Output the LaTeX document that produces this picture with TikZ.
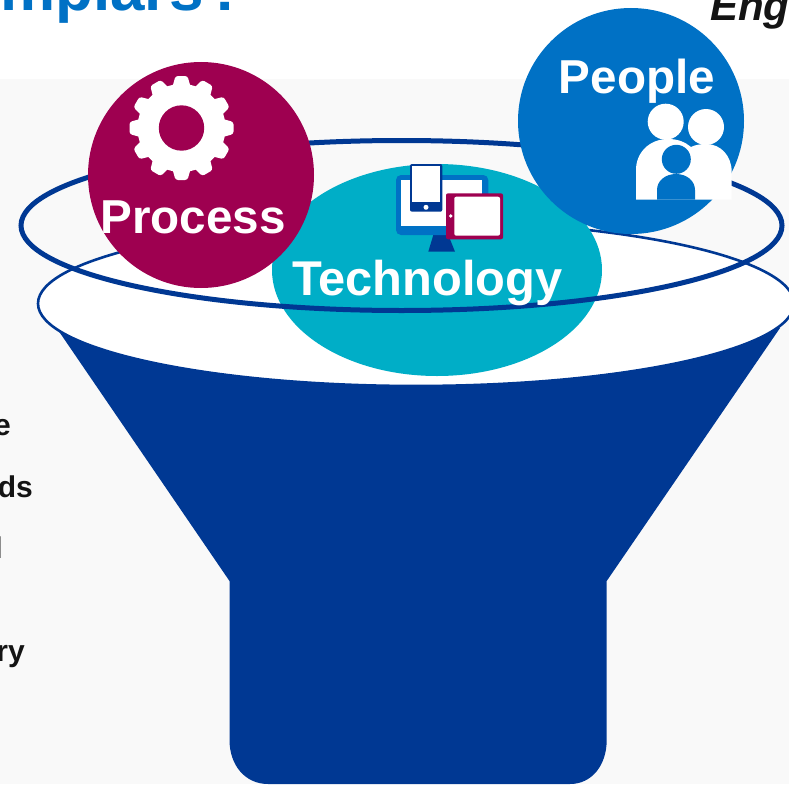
\documentclass[tikz,border=0pt]{standalone}
\usepackage{fontspec}
\setmainfont{Liberation Sans}
\definecolor{crimson}{HTML}{9E0050}
\definecolor{teal}{HTML}{00AEC7}
\definecolor{midblue}{HTML}{0071C5}
\definecolor{navy}{HTML}{003893}
\definecolor{panel}{HTML}{F9F9F9}
\tikzset{
  label/.style={text=white,font=\bfseries\fontsize{47.6}{48}\selectfont,inner sep=0pt,anchor=base},
  side/.style={text=black!92,font=\bfseries\fontsize{30}{30}\selectfont,inner sep=0pt,anchor=base east},
  ball/.style={circle,minimum size=226pt,inner sep=0pt}
}
\begin{document}
\begin{tikzpicture}[x=1pt,y=-1pt]
\useasboundingbox (0,0) rectangle (789,784);
\clip (0,0) rectangle (789,784);
\fill[panel] (0,79) rectangle (789,784);

% text cut off by the page
\node[anchor=base west,inner sep=0pt,text=midblue,font=\bfseries\fontsize{62}{62}\selectfont] (title) at (0,11) {mplars\hspace{0.06em}?};
\node[anchor=base west,inner sep=0pt,text=black!92,font=\bfseries\itshape\fontsize{42}{42}\selectfont] (eng) at (710,21) {Eng};
\node[side] (s1) at (11,435) {e};
\node[side] (s2) at (33,497) {ds};
\node[side] (s3) at (3,558) {l};
\node[side] (s4) at (25,661) {ry};

% funnel
\fill[navy] (58,330) -- (229.5,581) -- (229.5,740) .. controls (229.5,765) and (245,784) .. (268,784)
  -- (570,784) .. controls (592,784) and (606.7,765) .. (606.7,740) -- (606.7,581) -- (780,328) -- cycle;
\draw[navy,line width=2.6pt,fill=white] (416,303.5) ellipse [x radius=378,y radius=82.5];

\fill[teal] (437,270) ellipse [x radius=165,y radius=106];
\draw[navy,line width=5pt] (401.5,225.5) ellipse [x radius=380.5,y radius=85];

% process
\node[ball,fill=crimson] (process) at (201,175) {};
\fill[white] (181.5,128) circle (44);
\foreach \a in {0,30,...,330}
  \fill[white,rounded corners=2.5pt,rotate around={\a:(181.5,128)}] (171,92) -- (175.5,76) -- (187.5,76) -- (192,92) -- cycle;
\fill[crimson] (181.5,128) circle (22.7);
\node[label] (processtext) at (193,233) {Process};

% technology
\node[label,font=\bfseries\fontsize{48.8}{49}\selectfont] (techtext) at (427.5,295) {Technology};
\fill[navy] (433.3,235) -- (448.3,235) -- (455,251.7) -- (428.3,251.7) -- cycle;
\fill[midblue,rounded corners=5pt] (396,175) rectangle (488.3,235);
\fill[white] (401.3,180) rectangle (482,226);
\fill[navy,rounded corners=2pt] (410,164) rectangle (442.3,211.7);
\fill[white] (412.3,165.7) rectangle (440,201.7);
\fill[white] (426,207.3) circle (2.5);
\fill[crimson,rounded corners=2pt] (446,193.3) rectangle (503,239.3);
\fill[white,rounded corners=2pt] (454.3,196.7) rectangle (500,235.7);
\fill[white] (450.7,216) circle (1.8);

% people
\node[ball,fill=midblue] (people) at (631,121) {};
\node[label] (peopletext) at (637,93) {People};
\fill[white] (665.7,121.7) circle (18);
\fill[white] (706,127) circle (18);
\fill[white] (636,199.5) -- (636,170) .. controls (636,152) and (650,139) .. (668,139)
  .. controls (678,139) and (685,142) .. (691,147) .. controls (695,145) and (700,144) .. (706,144)
  .. controls (721,144) and (731.7,156) .. (731.7,172) -- (731.7,199.5) -- cycle;
\fill[midblue] (657,199.5) -- (657,190) .. controls (657,181) and (665,174) .. (676,174)
  .. controls (687,174) and (695,181) .. (695,190) -- (695,199.5) -- cycle;
\fill[midblue] (676.3,159.3) circle (14.5);

\end{tikzpicture}
\end{document}
